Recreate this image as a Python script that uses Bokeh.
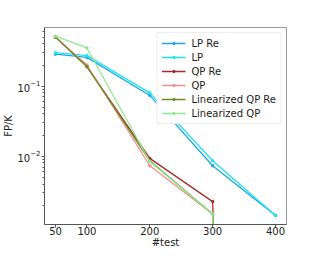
from bokeh.plotting import figure
from bokeh.models import FixedTicker, Range1d, Legend, LegendItem
from bokeh.embed import file_html
from bokeh.resources import INLINE

x = [50, 100, 200, 300, 400]
lp_re = [0.286, 0.257, 0.0736, 0.0073, 0.00143]
lp = [0.300, 0.272, 0.080, 0.0086, 0.00143]
qp_re = [0.50, 0.19, 0.0093, 0.00225, 0]
qp = [0.50, 0.20, 0.0073, 0.0015, 0]
lin_qp_re = [0.50, 0.19, 0.0086, 0.0015, 0]
lin_qp = [0.515, 0.35, 0.0084, 0.0015, 0]

x_ticks = [50, 100, 200, 300, 400]

series = [
    ("LP Re", lp_re, "#22a6e6"),
    ("LP", lp, "#1ce4f0"),
    ("QP Re", qp_re, "#a52a2a"),
    ("QP", qp, "#f09090"),
    ("Linearized QP Re", lin_qp_re, "#6b8e23"),
    ("Linearized QP", lin_qp, "#90e890"),
]

FONT = "DejaVu Sans"

p = figure(width=311, height=250, y_axis_type="log",
           x_range=Range1d(32.5, 417.5), y_range=Range1d(0.00106, 0.686),
           output_backend="svg", toolbar_location=None, title=None,
           min_border=0)
p.min_border_top = 27
p.min_border_left = 33
p.min_border_right = 25
p.min_border_bottom = 0
p.grid.visible = False
p.outline_line_color = "#999999"
p.background_fill_color = "white"
p.border_fill_color = "white"

items = []
for name, ys, c in series:
    yy = [v if v > 0 else 1e-30 for v in ys]
    r1 = p.line(x, yy, line_color=c, line_width=1.3)
    r2 = p.scatter(x, yy, size=2.5, color=c)
    items.append(LegendItem(label=name, renderers=[r1, r2]))

leg = Legend(items=items, location="top_right", margin=5, padding=4,
             spacing=2, label_text_font=FONT, label_text_font_size="10px",
             label_height=12, glyph_width=24, glyph_height=6,
             label_standoff=6, border_line_color="#dddddd",
             label_text_color="#222222")
p.add_layout(leg)

p.xaxis.ticker = FixedTicker(ticks=x_ticks, minor_ticks=[])
p.xaxis.axis_label = "#test"
p.yaxis.axis_label = "FP/K"
for ax in (p.xaxis, p.yaxis):
    ax.axis_label_text_font = FONT
    ax.axis_label_text_font_size = "10px"
    ax.axis_label_text_font_style = "normal"
    ax.major_label_text_font = FONT
    ax.major_label_text_font_size = "10px"
    ax.axis_line_color = "#555555"
    ax.major_tick_line_color = "#555555"
    ax.minor_tick_line_color = "#555555"
    ax.major_tick_out = 3
    ax.major_tick_in = 0
    ax.minor_tick_out = 2
    ax.minor_tick_in = 0
    ax.major_label_text_color = "#222222"
    ax.axis_label_text_color = "#222222"
p.xaxis.major_label_standoff = -1
p.xaxis.axis_label_standoff = -1
p.yaxis.major_label_standoff = 1
p.yaxis.axis_label_standoff = 0

open("out.html", "w").write(file_html(p, INLINE))
